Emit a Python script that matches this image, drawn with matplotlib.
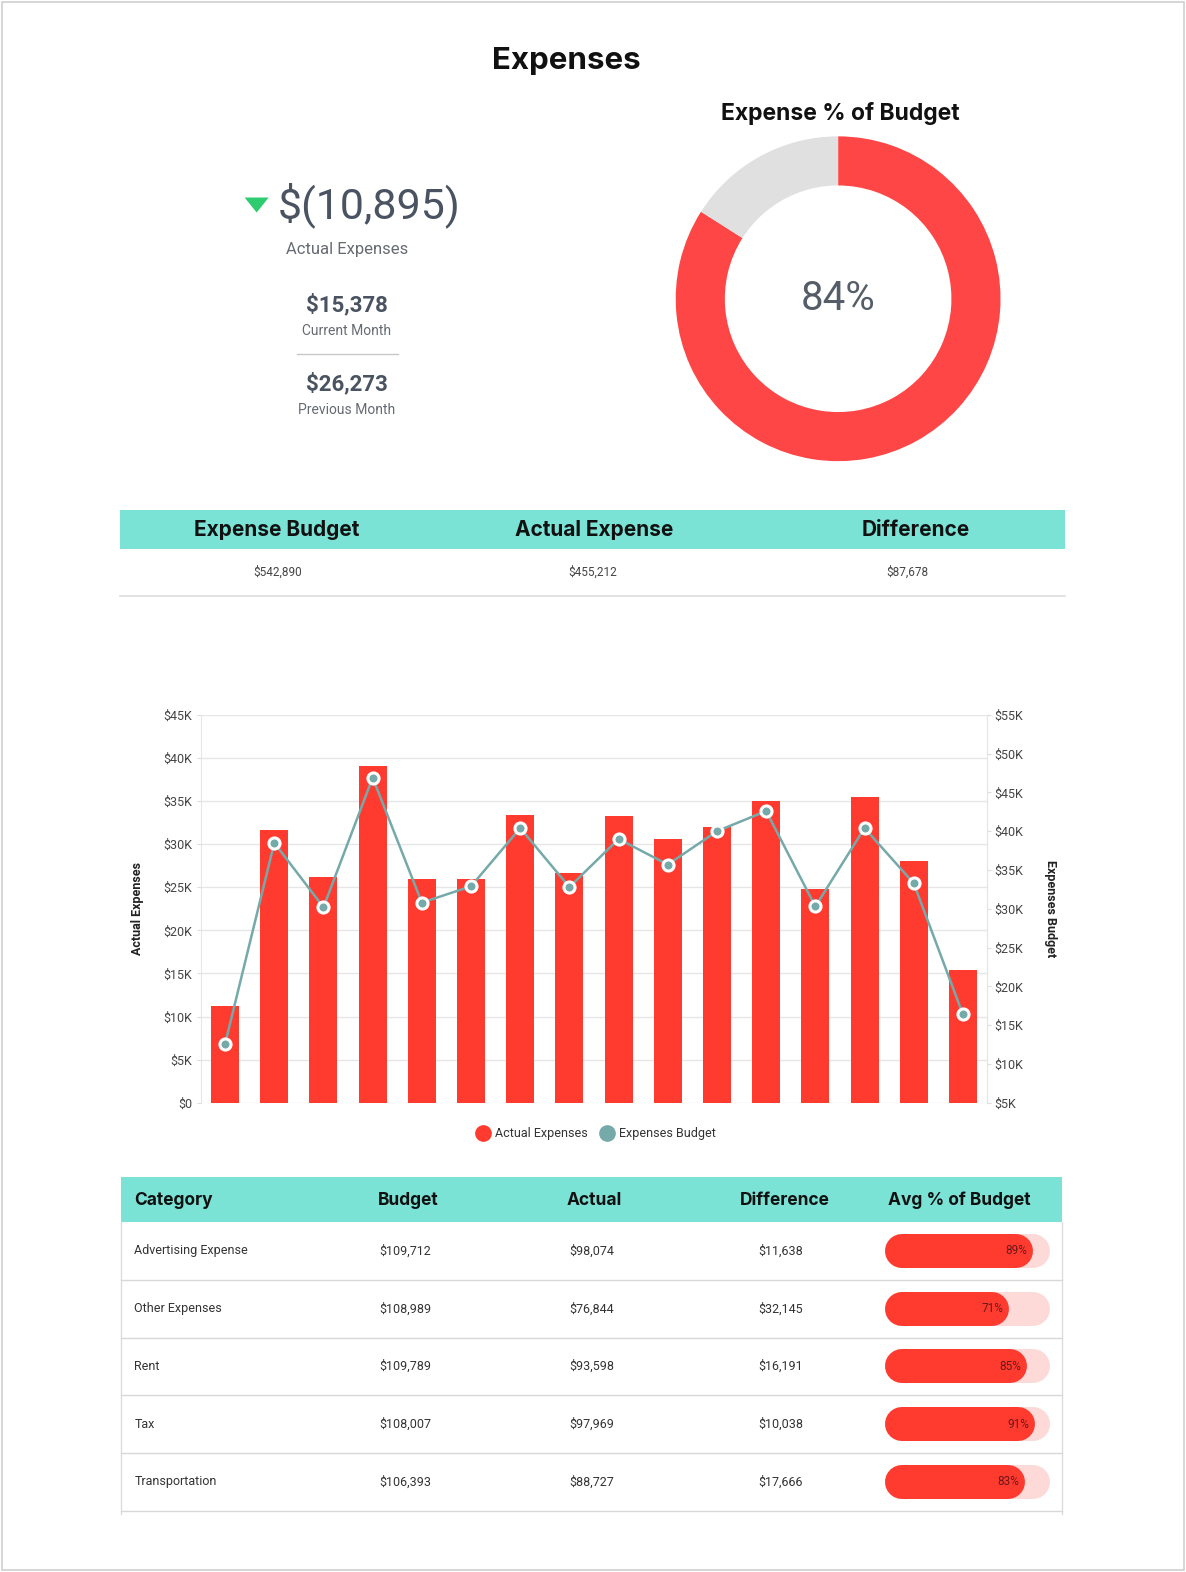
import numpy as np
import matplotlib
matplotlib.use("Agg")
import matplotlib.pyplot as plt
from matplotlib.patches import Rectangle, Polygon
from matplotlib.lines import Line2D

W, H = 1183, 1568

# KPI block
kpi_main = "$(10,895)"
kpi_main_label = "Actual Expenses"
kpi_current = "$15,378"
kpi_previous = "$26,273"
budget_pct = 84

# summary row
summary_headers = ["Expense Budget", "Actual Expense", "Difference"]
summary_values = ["$542,890", "$455,212", "$87,678"]

# monthly chart
actual_expenses = [11200, 31600, 26200, 39100, 25900, 26000, 33400, 26700,
                   33300, 30600, 32000, 35000, 24800, 35500, 28100, 15400]
expenses_budget = [12600, 38500, 30200, 46900, 30800, 32900, 40400, 32800,
                   39000, 35700, 40000, 42600, 30300, 40400, 33300, 16400]

# category table
table_headers = ["Category", "Budget", "Actual", "Difference", "Avg % of Budget"]
categories = ["Advertising Expense", "Other Expenses", "Rent", "Tax", "Transportation"]
cat_budget = ["$109,712", "$108,989", "$109,789", "$108,007", "$106,393"]
cat_actual = ["$98,074", "$76,844", "$93,598", "$97,969", "$88,727"]
cat_diff = ["$11,638", "$32,145", "$16,191", "$10,038", "$17,666"]
cat_pct = [89, 71, 85, 91, 83]

RED = "#ff3b30"
TEAL = "#7be3d6"
LINE = "#76a9aa"
DARK = "#4a5361"
HEAD = "Inter"
BODY = "Roboto"

fig = plt.figure(figsize=(11.86, 15.72), dpi=100)
fig.patch.set_facecolor("white")

ov = fig.add_axes([0, 0, 1, 1])
ov.set_xlim(0, W)
ov.set_ylim(H, 0)
ov.axis("off")

# outer border
ov.add_patch(Rectangle((2, 2), W - 4, H - 4, fill=False, ec="#d0d0d0", lw=1.2))

ov.text(565, 61, "Expenses", ha="center", va="center", fontsize=22.5,
        fontweight="bold", family=HEAD, color="#111111")
ov.text(838, 113, "Expense % of Budget", ha="center", va="center", fontsize=16.5,
        fontweight="bold", family=HEAD, color="#111111")

# KPI
ov.add_patch(Polygon([[244, 197], [268, 197], [256, 212]], closed=True,
                     fc="#2ecc71", ec="none"))
ov.text(368, 205, kpi_main, ha="center", va="center", fontsize=31,
        family=BODY, color=DARK)
ov.text(346, 249, kpi_main_label, ha="center", va="center", fontsize=12,
        family=BODY, color="#666b73")
ov.text(346, 304, kpi_current, ha="center", va="center", fontsize=16,
        fontweight="bold", family=BODY, color=DARK)
ov.text(346, 330, "Current Month", ha="center", va="center", fontsize=10,
        family=BODY, color="#666b73")
ov.plot([296, 397], [353, 353], color="#c8c8c8", lw=1)
ov.text(346, 383, kpi_previous, ha="center", va="center", fontsize=16,
        fontweight="bold", family=BODY, color=DARK)
ov.text(346, 409, "Previous Month", ha="center", va="center", fontsize=10,
        family=BODY, color="#666b73")

# donut
cx, cy, r = 836, 298, 162
axd = fig.add_axes([(cx - r) / W, 1 - (cy + r) / H, 2 * r / W, 2 * r / H])
axd.pie([budget_pct, 100 - budget_pct], colors=["#ff4646", "#e0e0e0"],
        startangle=90, counterclock=False, radius=1,
        wedgeprops=dict(width=49 / 162, edgecolor="none"))
axd.set_xlim(-1, 1)
axd.set_ylim(-1, 1)
axd.set_aspect("auto")
axd.text(0, 0, f"{budget_pct}%", ha="center", va="center", fontsize=29,
         family=BODY, color="#555d69")

# summary table
ov.add_patch(Rectangle((120, 509), 942, 39, fc=TEAL, ec="none"))
ov.plot([120, 1062], [594, 594], color="#dddddd", lw=1.2)
for xh, xv, hd, val in zip([276, 593, 913], [277, 591, 905], summary_headers, summary_values):
    ov.text(xh, 529, hd, ha="center", va="center", fontsize=15,
            fontweight="bold", family=HEAD, color="#111111")
    ov.text(xv, 571, val, ha="center", va="center", fontsize=8.5,
            family=BODY, color="#444444")

# monthly chart
ax = fig.add_axes([200 / W, 1 - 1100 / H, 785 / W, 387 / H])
x = np.arange(len(actual_expenses))
ax.bar(x, actual_expenses, width=0.57, color=RED, zorder=2)
ax.set_xlim(-0.5, len(x) - 0.5)
ax.set_ylim(0, 45000)
ax.set_yticks(np.arange(0, 45001, 5000))
ax.set_yticklabels([f"${v // 1000}K" if v else "$0" for v in range(0, 45001, 5000)])
ax.set_xticks([])
ax.grid(axis="y", color="#e6e6e6", lw=1, zorder=0)
for s in ["top", "bottom"]:
    ax.spines[s].set_visible(False)
for s in ["left", "right"]:
    ax.spines[s].set_color("#e6e6e6")
ax.tick_params(axis="y", length=3, pad=3, color="#dddddd", labelsize=9, labelcolor="#444444")
ax.set_ylabel("Actual Expenses", fontsize=9, fontweight="bold", family=BODY,
              color="#222222", labelpad=14)

ax2 = ax.twinx()
ax2.plot(x, expenses_budget, color=LINE, lw=1.8, marker="o", markersize=8,
         markerfacecolor=LINE, markeredgecolor="white", markeredgewidth=2.2, zorder=3)
ax2.set_ylim(5000, 55000)
ax2.set_yticks(np.arange(5000, 55001, 5000))
ax2.set_yticklabels([f"${v // 1000}K" for v in range(5000, 55001, 5000)])
for s in ["top", "bottom", "left"]:
    ax2.spines[s].set_visible(False)
ax2.spines["right"].set_color("#e6e6e6")
ax2.tick_params(axis="y", length=3, pad=2, color="#dddddd", labelsize=9, labelcolor="#444444")
ax2.set_ylabel("Expenses Budget", fontsize=9, fontweight="bold", family=BODY,
               color="#222222", rotation=270, labelpad=24)
for t in ax.get_yticklabels() + ax2.get_yticklabels():
    t.set_family(BODY)

handles = [Line2D([], [], ls="none", marker="o", markersize=11, color=RED),
           Line2D([], [], ls="none", marker="o", markersize=11, color=LINE)]
leg = fig.legend(handles, ["Actual Expenses", "Expenses Budget"], loc="center",
                 bbox_to_anchor=(595 / W, 1 - 1131 / H), ncol=2, frameon=False,
                 handletextpad=0.5, columnspacing=1.0, handlelength=1.0,
                 prop={"family": BODY, "size": 9})
for t in leg.get_texts():
    t.set_color("#333333")

# category table
ov.add_patch(Rectangle((121, 1174), 938, 45, fc=TEAL, ec="none"))
for xh, hd in zip([134, 377, 565, 738, 886], table_headers):
    ov.text(xh, 1197, hd, ha="left", va="center", fontsize=12.5,
            fontweight="bold", family=HEAD, color="#111111")
row_h = 57.6
top = 1219
ov.plot([121, 121], [1219, 1510], color="#dddddd", lw=1)
ov.plot([1059, 1059], [1219, 1510], color="#dddddd", lw=1)
for i, (cat, b, a, d) in enumerate(zip(categories, cat_budget, cat_actual, cat_diff)):
    yc = top + row_h * (i + 0.5)
    ov.plot([121, 1059], [top + row_h * (i + 1)] * 2, color="#d8d8d8", lw=1)
    ov.text(134, yc, cat, ha="left", va="center", fontsize=9, family=BODY, color="#333333")
    ov.text(378, yc, b, ha="left", va="center", fontsize=9, family=BODY, color="#333333")
    ov.text(568, yc, a, ha="left", va="center", fontsize=9, family=BODY, color="#333333")
    ov.text(756, yc, d, ha="left", va="center", fontsize=9, family=BODY, color="#333333")

# progress bars
axp = fig.add_axes([900 / W, 1 - (top + row_h * 5) / H, 130 / W, row_h * 5 / H])
axp.set_xlim(0, 100)
axp.set_ylim(len(cat_pct) - 0.5, -0.5)
axp.axis("off")
cap_lw = 34 * 0.72
for i, p in enumerate(cat_pct):
    axp.plot([0, 100], [i, i], color="#fdd9d8", lw=cap_lw, solid_capstyle="round",
             clip_on=False)
    axp.plot([0, p - 2], [i, i], color=RED, lw=cap_lw, solid_capstyle="round",
             clip_on=False)
    axp.annotate(f"{p}%", (p - 2, i), xytext=(8, 0), textcoords="offset points",
                 ha="right", va="center", fontsize=8.5, family=BODY, color="#6a1818")

fig.savefig("out.png", dpi=100, facecolor="white")
